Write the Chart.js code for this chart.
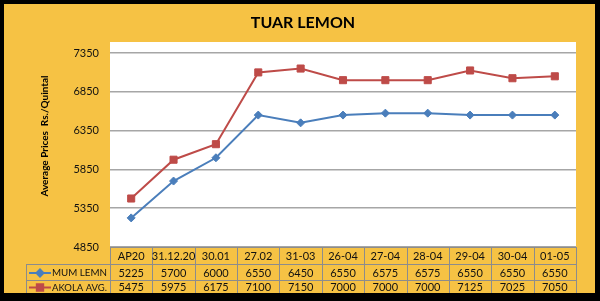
<!DOCTYPE html>
<html>
<head>
<meta charset="utf-8">
<script src="https://cdn.jsdelivr.net/npm/chart.js@4/dist/chart.umd.min.js"></script>
<style>
  html, body { margin: 0; padding: 0; background: #000; }
  #wrap { width: 600px; height: 301px; }
</style>
</head>
<body>
<div id="wrap"><canvas id="c" width="600" height="301"></canvas></div>
<script>
// chart data
const categories = ['AP20', '31.12.20', '30.01', '27.02', '31-03', '26-04', '27-04', '28-04', '29-04', '30-04', '01-05'];
const mumLemn = [5225, 5700, 6000, 6550, 6450, 6550, 6575, 6575, 6550, 6550, 6550];
const akolaAvg = [5475, 5975, 6175, 7100, 7150, 7000, 7000, 7000, 7125, 7025, 7050];
const yTicks = [4850, 5350, 5850, 6350, 6850, 7350];

const ORANGE = '#F6C244';
const FONT = 'Lato, "Open Sans", sans-serif';

const seriesDefs = [
    { label: 'MUM LEMN', data: mumLemn, color: '#4A7EBB', point: 'rectRot', radius: 4 },
    { label: 'AKOLA AVG.', data: akolaAvg, color: '#BE4B48', point: 'rect', radius: 5 },
];

// frame, orange fill and white plot area
const framePlugin = {
    id: 'frame',
    beforeDraw(chart) {
        const ctx = chart.ctx;
        const a = chart.chartArea;
        ctx.save();
        ctx.fillStyle = '#000';
        ctx.fillRect(0, 0, chart.width, chart.height);
        ctx.fillStyle = ORANGE;
        ctx.fillRect(4, 4, 591, 289);
        ctx.fillStyle = '#fff';
        ctx.fillRect(a.left, a.top, a.right - a.left, a.bottom - a.top);
        ctx.restore();
    },
    afterDraw(chart) {
        const ctx = chart.ctx;
        const a = chart.chartArea;
        const x = chart.scales.x;
        ctx.save();

        // title
        ctx.fillStyle = '#000';
        ctx.font = 'bold 16px ' + FONT;
        ctx.textAlign = 'center';
        ctx.textBaseline = 'middle';
        ctx.fillText('TUAR LEMON', 303, 23);

        // y axis title
        ctx.save();
        ctx.translate(45, 136);
        ctx.rotate(-Math.PI / 2);
        ctx.font = 'bold 10px ' + FONT;
        ctx.fillText('Average Prices  Rs./Quintal', 0, 0);
        ctx.restore();

        // data table
        const colW = (a.right - a.left) / categories.length;
        const rows = [a.bottom, 264, 280, 293];
        const legendLeft = 26;
        ctx.strokeStyle = '#8C8C8C';
        ctx.lineWidth = 1;
        ctx.beginPath();
        ctx.moveTo(a.left, rows[0] + 0.5); ctx.lineTo(a.right, rows[0] + 0.5);
        ctx.moveTo(legendLeft, rows[1] + 0.5); ctx.lineTo(a.right, rows[1] + 0.5);
        ctx.moveTo(legendLeft, rows[2] + 0.5); ctx.lineTo(a.right, rows[2] + 0.5);
        ctx.moveTo(legendLeft + 0.5, rows[1]); ctx.lineTo(legendLeft + 0.5, rows[3]);
        for (let i = 0; i <= categories.length; i++) {
            const px = Math.round(a.left + i * colW) + 0.5;
            ctx.moveTo(px, rows[0]); ctx.lineTo(px, rows[3]);
        }
        ctx.stroke();

        ctx.fillStyle = '#111';
        ctx.font = '11px ' + FONT;
        ctx.textAlign = 'center';
        categories.forEach((c, i) => {
            ctx.fillText(c, x.getPixelForValue(i), (rows[0] + rows[1]) / 2 + 1);
        });
        seriesDefs.forEach((s, r) => {
            const cy = (rows[r + 1] + rows[r + 2]) / 2 + 1;
            ctx.font = '11px ' + FONT;
            s.data.forEach((v, i) => {
                ctx.fillText(String(v), x.getPixelForValue(i), cy);
            });
            // legend key
            ctx.strokeStyle = s.color;
            ctx.lineWidth = 2;
            ctx.beginPath();
            ctx.moveTo(29, cy); ctx.lineTo(51, cy);
            ctx.stroke();
            ctx.fillStyle = s.color;
            Chart.helpers.drawPoint(ctx, {
                pointStyle: s.point, radius: s.radius - 0.5, rotation: 0, borderWidth: 1
            }, 40, cy);
            ctx.fillStyle = '#111';
            ctx.textAlign = 'left';
            ctx.font = '10px ' + FONT;
            ctx.fillText(s.label, 52, cy, 55);
            ctx.textAlign = 'center';
        });
        ctx.restore();
    }
};

new Chart(document.getElementById('c'), {
    type: 'line',
    data: {
        labels: categories,
        datasets: seriesDefs.map(s => ({
            label: s.label,
            data: s.data,
            borderColor: s.color,
            backgroundColor: s.color,
            borderWidth: 2,
            tension: 0,
            pointStyle: s.point,
            pointRadius: s.radius,
            pointBorderWidth: 1,
            pointBorderColor: s.color,
            pointBackgroundColor: s.color,
        })),
    },
    options: {
        responsive: false,
        animation: false,
        layout: { padding: { left: 30, right: 24, top: 42, bottom: 54 } },
        plugins: {
            legend: { display: false },
            title: { display: false },
            tooltip: { enabled: false },
        },
        scales: {
            x: {
                display: false,
                offset: true,
            },
            y: {
                min: 4850,
                max: 7492,
                afterFit(scale) { scale.width = 80; },
                afterBuildTicks(scale) { scale.ticks = yTicks.map(v => ({ value: v })); },
                grid: { color: '#A6A6A6', lineWidth: 1.5, drawTicks: false },
                border: { display: false },
                ticks: {
                    color: '#111',
                    font: { family: FONT, size: 11 },
                    padding: 11,
                    callback: v => String(v),
                },
            },
        },
    },
    plugins: [framePlugin],
});
</script>
</body>
</html>
